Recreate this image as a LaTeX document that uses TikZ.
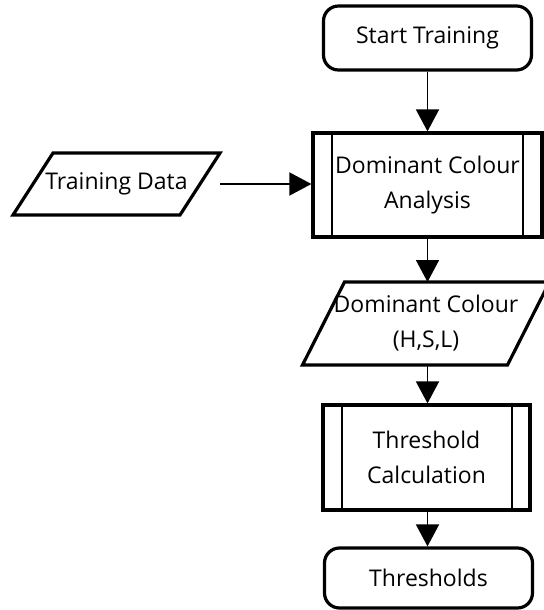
\documentclass[tikz,border=0pt]{standalone}
\usepackage{fontspec}
\setmainfont{Open Sans}
\usetikzlibrary{arrows.meta}
\tikzset{%
  terminal/.style={draw, line width=1.6pt, rounded corners=7.5pt,
                   minimum width=104pt, inner sep=0pt},
  process/.style={draw, line width=1.6pt, align=center, inner sep=0pt},
  datain/.style={align=center, inner sep=0pt, outer sep=0pt},
  border/.style={line width=1.6pt, line join=miter},
  flow/.style={line width=0.85pt, -{Triangle[width=11.5pt,length=11pt]}},
  bar/.style={line width=1pt},
}

\begin{document}
\begin{tikzpicture}[x=0.5pt,y=-0.5pt,font=\fontsize{11.5}{17.5}\selectfont]
              \fill[white] (0,0) rectangle (543,610);
              \useasboundingbox (0,0) rectangle (543,610);
              % main column
              \node[terminal, minimum height=32pt] (start) at (427.5,38) {Start Training};
              \node[process, minimum width=114.5pt, minimum height=52pt] (ana) at (427.5,185) {Dominant Colour\\Analysis};
              \node[datain, minimum width=83.5pt, minimum height=31pt] (td) at (116.5,184) {Training Data};
              \node[datain, minimum width=102.5pt, minimum height=41.5pt] (hsl) at (426,323.5) {Dominant Colour\\(H,S,L)};
              \node[process, minimum width=103.5pt, minimum height=52.5pt] (calc) at (426.5,457.5) {Threshold\\Calculation};
              \node[terminal, minimum height=30pt] (thr) at (428.5,578) {Thresholds};
              % slanted data boxes
              \draw[border] ([xshift=-10pt]td.south west) -- ([xshift=10pt]td.north west)
                         -- ([xshift=10pt]td.north east) -- ([xshift=-10pt]td.south east) -- cycle;
              \draw[border] ([xshift=-10.5pt]hsl.south west) -- ([xshift=10.5pt]hsl.north west)
                         -- ([xshift=10.5pt]hsl.north east) -- ([xshift=-10.5pt]hsl.south east) -- cycle;
              % side bars of the predefined processes
              \draw[bar] ([xshift=10.5pt]ana.north west) -- ([xshift=10.5pt]ana.south west);
              \draw[bar] ([xshift=-10.5pt]ana.north east) -- ([xshift=-10.5pt]ana.south east);
              \draw[bar] ([xshift=10.5pt]calc.north west) -- ([xshift=10.5pt]calc.south west);
              \draw[bar] ([xshift=-10pt]calc.north east) -- ([xshift=-10pt]calc.south east);
              % connectors
              \draw[flow] ([xshift=10pt]td.east) -- (ana.west |- td.east);
              \draw[flow] (start) -- (ana);
              \draw[flow] (ana) -- (hsl.north -| ana.south);
              \draw[flow] (hsl.south -| ana.south) -- (calc.north -| ana.south);
              \draw[flow] (calc.south -| ana.south) -- (thr.north -| ana.south);
          \end{tikzpicture}
\end{document}
